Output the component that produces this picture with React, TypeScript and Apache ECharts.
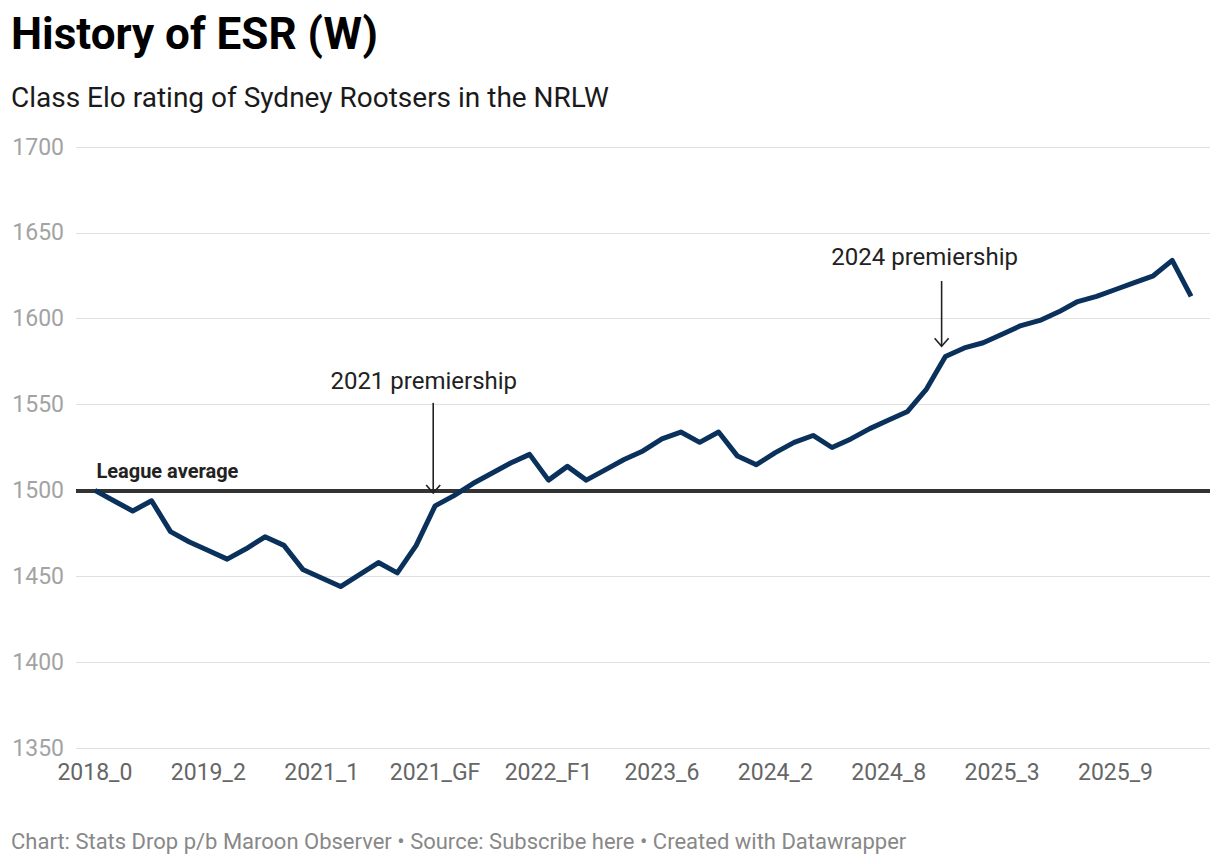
import React, { useEffect, useRef } from "react";
import * as echarts from "echarts";

const categories = [
  "2018_0", "2018_1", "2018_2", "2018_3", "2018_GF",
  "2019_1", "2019_2", "2019_3",
  "2020_1", "2020_2", "2020_3", "2020_GF",
  "2021_1", "2021_2", "2021_3", "2021_4", "2021_5", "2021_SF", "2021_GF",
  "2022_1", "2022_2", "2022_3", "2022_4", "2022_5", "2022_F1",
  "2023_1", "2023_2", "2023_3", "2023_4", "2023_5", "2023_6", "2023_7", "2023_8", "2023_9", "2023_F1",
  "2024_1", "2024_2", "2024_3", "2024_4", "2024_5", "2024_6", "2024_7", "2024_8", "2024_9", "2024_F1", "2024_GF",
  "2025_1", "2025_2", "2025_3", "2025_4", "2025_5", "2025_6", "2025_7", "2025_8", "2025_9", "2025_10", "2025_11", "2025_F1", "2025_GF",
];

const eloValues = [
  1500, 1494, 1488, 1494, 1476, 1470, 1465, 1460, 1466, 1473,
  1468, 1454, 1449, 1444, 1451, 1458, 1452, 1468, 1491, 1497,
  1504, 1510, 1516, 1521, 1506, 1514, 1506, 1512, 1518, 1523,
  1530, 1534, 1528, 1534, 1520, 1515, 1522, 1528, 1532, 1525,
  1530, 1536, 1541, 1546, 1559, 1578, 1583, 1586, 1591, 1596,
  1599, 1604, 1610, 1613, 1617, 1621, 1625, 1634, 1613,
];

const xLabelIndices = [0, 6, 12, 18, 24, 30, 36, 42, 48, 54];
const yTicks = [1350, 1400, 1450, 1500, 1550, 1600, 1650, 1700];
const leagueAverage = 1500;

// annotations: arrow x (index), arrow top value, arrow bottom value, text center x, text middle value
const annotationLabels = ["2021 premiership", "2024 premiership"];
const annotationArrowX = [17.9, 44.8];
const annotationArrowTop = [1551, 1622];
const annotationArrowBottom = [1498.5, 1584];
const annotationTextX = [17.4, 43.9];
const annotationTextY = [1564, 1636];

const FONT = "Roboto, 'Noto Sans', sans-serif";

export default function App() {
  const ref = useRef<HTMLDivElement>(null);

  useEffect(() => {
    if (!ref.current) return;
    const chart = echarts.init(ref.current, null, { renderer: "svg" });

    const lineData = eloValues.map((v, i) => [i, v]);
    const annData = annotationLabels.map((_, i) => [
      annotationArrowX[i],
      annotationArrowTop[i],
      annotationArrowBottom[i],
      annotationTextX[i],
      annotationTextY[i],
      i,
    ]);

    const option = {
      animation: false,
      backgroundColor: "#ffffff",
      textStyle: { fontFamily: FONT },
      title: [
        {
          text: "History of ESR (W)",
          left: 6,
          top: 7,
          textStyle: { fontFamily: FONT, fontSize: 44, fontWeight: "bold", color: "#000000" },
        },
        {
          text: "Class Elo rating of Sydney Rootsers in the NRLW",
          left: 6,
          top: 78,
          textStyle: { fontFamily: FONT, fontSize: 28, fontWeight: "normal", color: "#1a1a1a" },
        },
        {
          text: "Chart: Stats Drop p/b Maroon Observer • Source: Subscribe here • Created with Datawrapper",
          left: 6,
          top: 825,
          textStyle: { fontFamily: FONT, fontSize: 22, fontWeight: "normal", color: "#888888" },
        },
      ],
      grid: { left: 76, right: 10, top: 147, bottom: 116, containLabel: false },
      xAxis: {
        type: "value",
        min: -1,
        max: 59,
        axisLine: { show: false },
        axisTick: { show: false },
        splitLine: { show: false },
        axisLabel: {
          customValues: xLabelIndices,
          formatter: (v: number) => categories[Math.round(v)] ?? "",
          color: "#666666",
          fontSize: 23,
          fontFamily: FONT,
          margin: 13,
        },
      },
      yAxis: {
        type: "value",
        min: yTicks[0],
        max: yTicks[yTicks.length - 1],
        interval: 50,
        axisLine: { show: false },
        axisTick: { show: false },
        splitLine: { show: true, lineStyle: { color: "#e0e0e0", width: 1 } },
        axisLabel: {
          color: "#a3a3a3",
          fontSize: 23,
          fontFamily: FONT,
          margin: 12,
          formatter: (v: number) => String(v),
        },
      },
      series: [
        {
          type: "line",
          data: lineData,
          showSymbol: false,
          symbol: "none",
          lineStyle: { color: "#0a315c", width: 5, join: "round" },
          z: 3,
          markLine: {
            silent: true,
            symbol: "none",
            label: { show: false },
            lineStyle: { color: "#333333", width: 4, type: "solid" },
            data: [{ yAxis: leagueAverage }],
            z: 2,
          },
        },
        {
          type: "custom",
          silent: true,
          z: 4,
          data: annData,
          renderItem: (params: any, api: any) => {
            const ax = api.value(0);
            const top = api.coord([ax, api.value(1)]);
            const bot = api.coord([ax, api.value(2)]);
            const txt = api.coord([api.value(3), api.value(4)]);
            const idx = api.value(5);
            const children: any[] = [
              {
                type: "line",
                shape: { x1: top[0], y1: top[1], x2: bot[0], y2: bot[1] },
                style: { stroke: "#222222", lineWidth: 1.6 },
              },
              {
                type: "polyline",
                shape: {
                  points: [
                    [bot[0] - 7, bot[1] - 8],
                    [bot[0], bot[1]],
                    [bot[0] + 7, bot[1] - 8],
                  ],
                },
                style: { stroke: "#222222", lineWidth: 1.6, fill: "none" },
              },
              {
                type: "text",
                style: {
                  text: annotationLabels[idx],
                  x: txt[0],
                  y: txt[1],
                  align: "center",
                  verticalAlign: "middle",
                  font: `24px ${FONT}`,
                  fill: "#222222",
                },
              },
            ];
            if (idx === 0) {
              const la = api.coord([0, 1511.6]);
              children.push({
                type: "text",
                style: {
                  text: "League average",
                  x: la[0] + 1.5,
                  y: la[1],
                  align: "left",
                  verticalAlign: "middle",
                  font: `bold 20px ${FONT}`,
                  fill: "#222222",
                },
              });
            }
            return { type: "group", children };
          },
        },
      ],
    };

    chart.setOption(option as any);
    return () => {
      chart.dispose();
    };
  }, []);

  return (
    <div
      ref={ref}
      style={{ position: "fixed", left: 0, top: 0, width: 1220, height: 864 }}
    />
  );
}
